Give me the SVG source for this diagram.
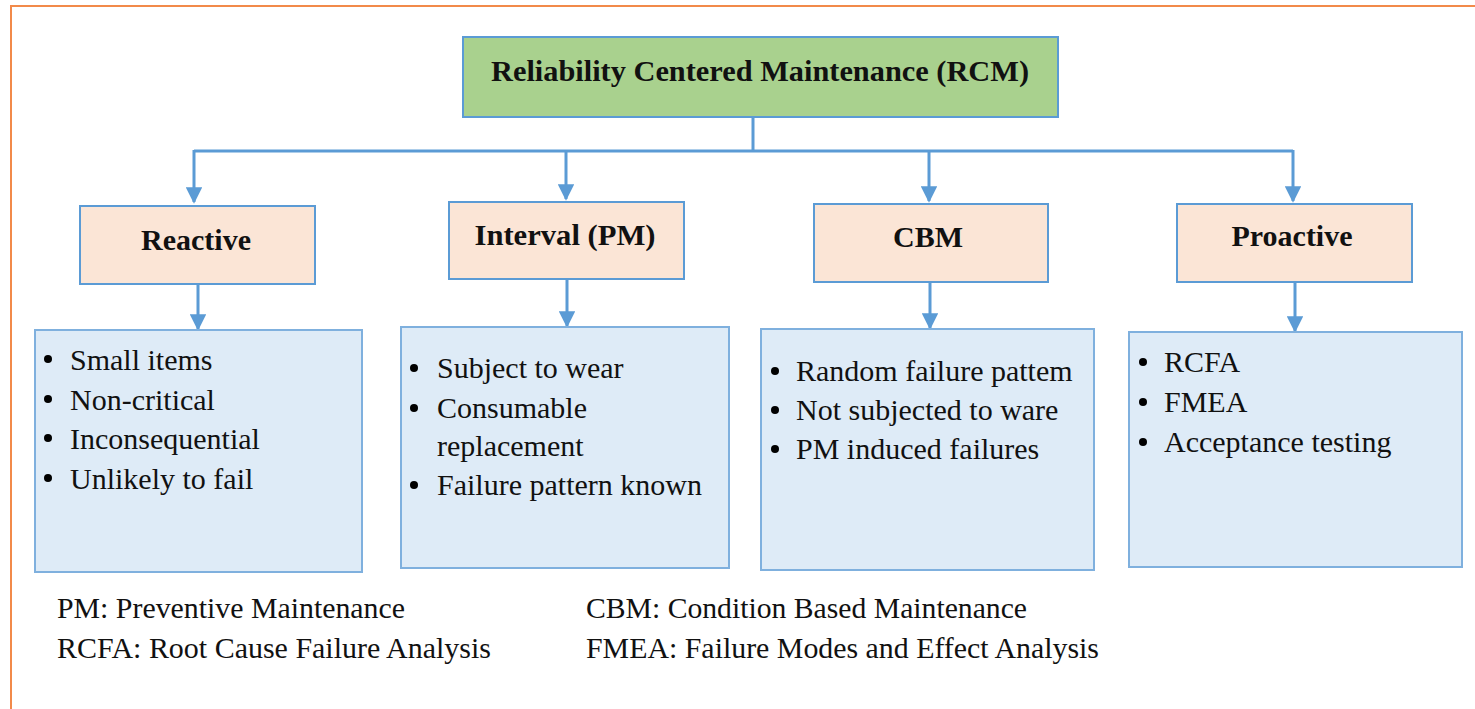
<svg xmlns="http://www.w3.org/2000/svg" width="1475" height="709" viewBox="0 0 1475 709">
  <defs>
    <style>
      .frame { fill: none; stroke: #F28A4A; stroke-width: 2; }
      .root { fill: #A9D18E; stroke: #5B9BD5; stroke-width: 2; }
      .cat { fill: #FBE5D6; stroke: #5B9BD5; stroke-width: 2; }
      .list { fill: #DEEBF7; stroke: #7FB0DE; stroke-width: 2; }
      .title { font-weight: bold; font-size: 30px; fill: #111; text-anchor: middle; }
      .item { font-size: 30px; fill: #111; }
      .note { font-size: 29px; fill: #111; }
      .wire { fill: none; stroke: #5B9BD5; stroke-width: 3; }
      .dot { fill: #000; }
    </style>
    <marker id="arrow" viewBox="0 0 10 10" refX="9" refY="5" markerWidth="5.5" markerHeight="5.5" markerUnits="strokeWidth" orient="auto">
      <path d="M0,0 L10,5 L0,10 Z" fill="#5B9BD5"/>
    </marker>
  </defs>

  <rect width="1475" height="709" fill="#ffffff"/>
  <!-- outer frame (right and bottom edges run past the canvas) -->
  <rect class="frame" x="11" y="6" width="1480" height="720"/>

  <!-- connectors -->
  <g id="connectors">
    <path class="wire" d="M753,117 V151"/>
    <path class="wire" d="M194,151 H1293"/>
    <path class="wire" d="M194,150 V202" marker-end="url(#arrow)"/>
    <path class="wire" d="M566,151 V199" marker-end="url(#arrow)"/>
    <path class="wire" d="M929,151 V201" marker-end="url(#arrow)"/>
    <path class="wire" d="M1293,150 V201" marker-end="url(#arrow)"/>
    <path class="wire" d="M198,284 V329" marker-end="url(#arrow)"/>
    <path class="wire" d="M567,279 V326" marker-end="url(#arrow)"/>
    <path class="wire" d="M930,282 V328" marker-end="url(#arrow)"/>
    <path class="wire" d="M1295,282 V331" marker-end="url(#arrow)"/>
  </g>

  <g font-family="Liberation Serif, Tinos, Times New Roman, serif">
  <!-- root -->
  <g id="rcm">
    <rect class="root" x="463" y="37" width="595" height="80"/>
    <text class="title" x="760" y="81" textLength="538" lengthAdjust="spacingAndGlyphs">Reliability Centered Maintenance (RCM)</text>
  </g>

  <!-- strategy categories -->
  <g id="reactive">
    <rect class="cat" x="80" y="206" width="235" height="78"/>
    <text class="title" x="196" y="250">Reactive</text>
  </g>
  <g id="interval">
    <rect class="cat" x="449" y="202" width="235" height="77"/>
    <text class="title" x="565" y="245" textLength="181" lengthAdjust="spacingAndGlyphs">Interval (PM)</text>
  </g>
  <g id="cbm">
    <rect class="cat" x="814" y="204" width="234" height="78"/>
    <text class="title" x="928" y="247">CBM</text>
  </g>
  <g id="proactive">
    <rect class="cat" x="1177" y="204" width="235" height="78"/>
    <text class="title" x="1292" y="246">Proactive</text>
  </g>

  <!-- detail lists -->
  <g id="reactive-list">
    <rect class="list" x="35" y="330" width="327" height="242"/>
    <circle class="dot" cx="48" cy="359" r="4"/>
    <circle class="dot" cx="48" cy="399" r="4"/>
    <circle class="dot" cx="48" cy="438" r="4"/>
    <circle class="dot" cx="48" cy="478" r="4"/>
    <text class="item" x="70" y="370">Small items</text>
    <text class="item" x="70" y="410">Non-critical</text>
    <text class="item" x="70" y="449">Inconsequential</text>
    <text class="item" x="70" y="489">Unlikely to fail</text>
  </g>
  <g id="interval-list">
    <rect class="list" x="401" y="327" width="328" height="241"/>
    <circle class="dot" cx="414" cy="368" r="4"/>
    <circle class="dot" cx="414" cy="408" r="4"/>
    <circle class="dot" cx="414" cy="485" r="4"/>
    <text class="item" x="437" y="378">Subject to wear</text>
    <text class="item" x="437" y="418">Consumable</text>
    <text class="item" x="437" y="456">replacement</text>
    <text class="item" x="437" y="495">Failure pattern known</text>
  </g>
  <g id="cbm-list">
    <rect class="list" x="761" y="329" width="333" height="241"/>
    <circle class="dot" cx="775" cy="371" r="4"/>
    <circle class="dot" cx="775" cy="410" r="4"/>
    <circle class="dot" cx="775" cy="449" r="4"/>
    <text class="item" x="796" y="381">Random failure pattem</text>
    <text class="item" x="796" y="420">Not subjected to ware</text>
    <text class="item" x="796" y="459">PM induced failures</text>
  </g>
  <g id="proactive-list">
    <rect class="list" x="1129" y="332" width="333" height="235"/>
    <circle class="dot" cx="1143" cy="362" r="4"/>
    <circle class="dot" cx="1143" cy="402" r="4"/>
    <circle class="dot" cx="1143" cy="442" r="4"/>
    <text class="item" x="1164" y="372">RCFA</text>
    <text class="item" x="1164" y="412">FMEA</text>
    <text class="item" x="1164" y="452">Acceptance testing</text>
  </g>

  <!-- abbreviations -->
  <g id="legend">
    <text class="note" x="57" y="618" textLength="348" lengthAdjust="spacingAndGlyphs">PM: Preventive Maintenance</text>
    <text class="note" x="57" y="658" textLength="434" lengthAdjust="spacingAndGlyphs">RCFA: Root Cause Failure Analysis</text>
    <text class="note" x="586" y="618" textLength="441" lengthAdjust="spacingAndGlyphs">CBM: Condition Based Maintenance</text>
    <text class="note" x="586" y="658" textLength="513" lengthAdjust="spacingAndGlyphs">FMEA: Failure Modes and Effect Analysis</text>
  </g>
  </g>
</svg>
